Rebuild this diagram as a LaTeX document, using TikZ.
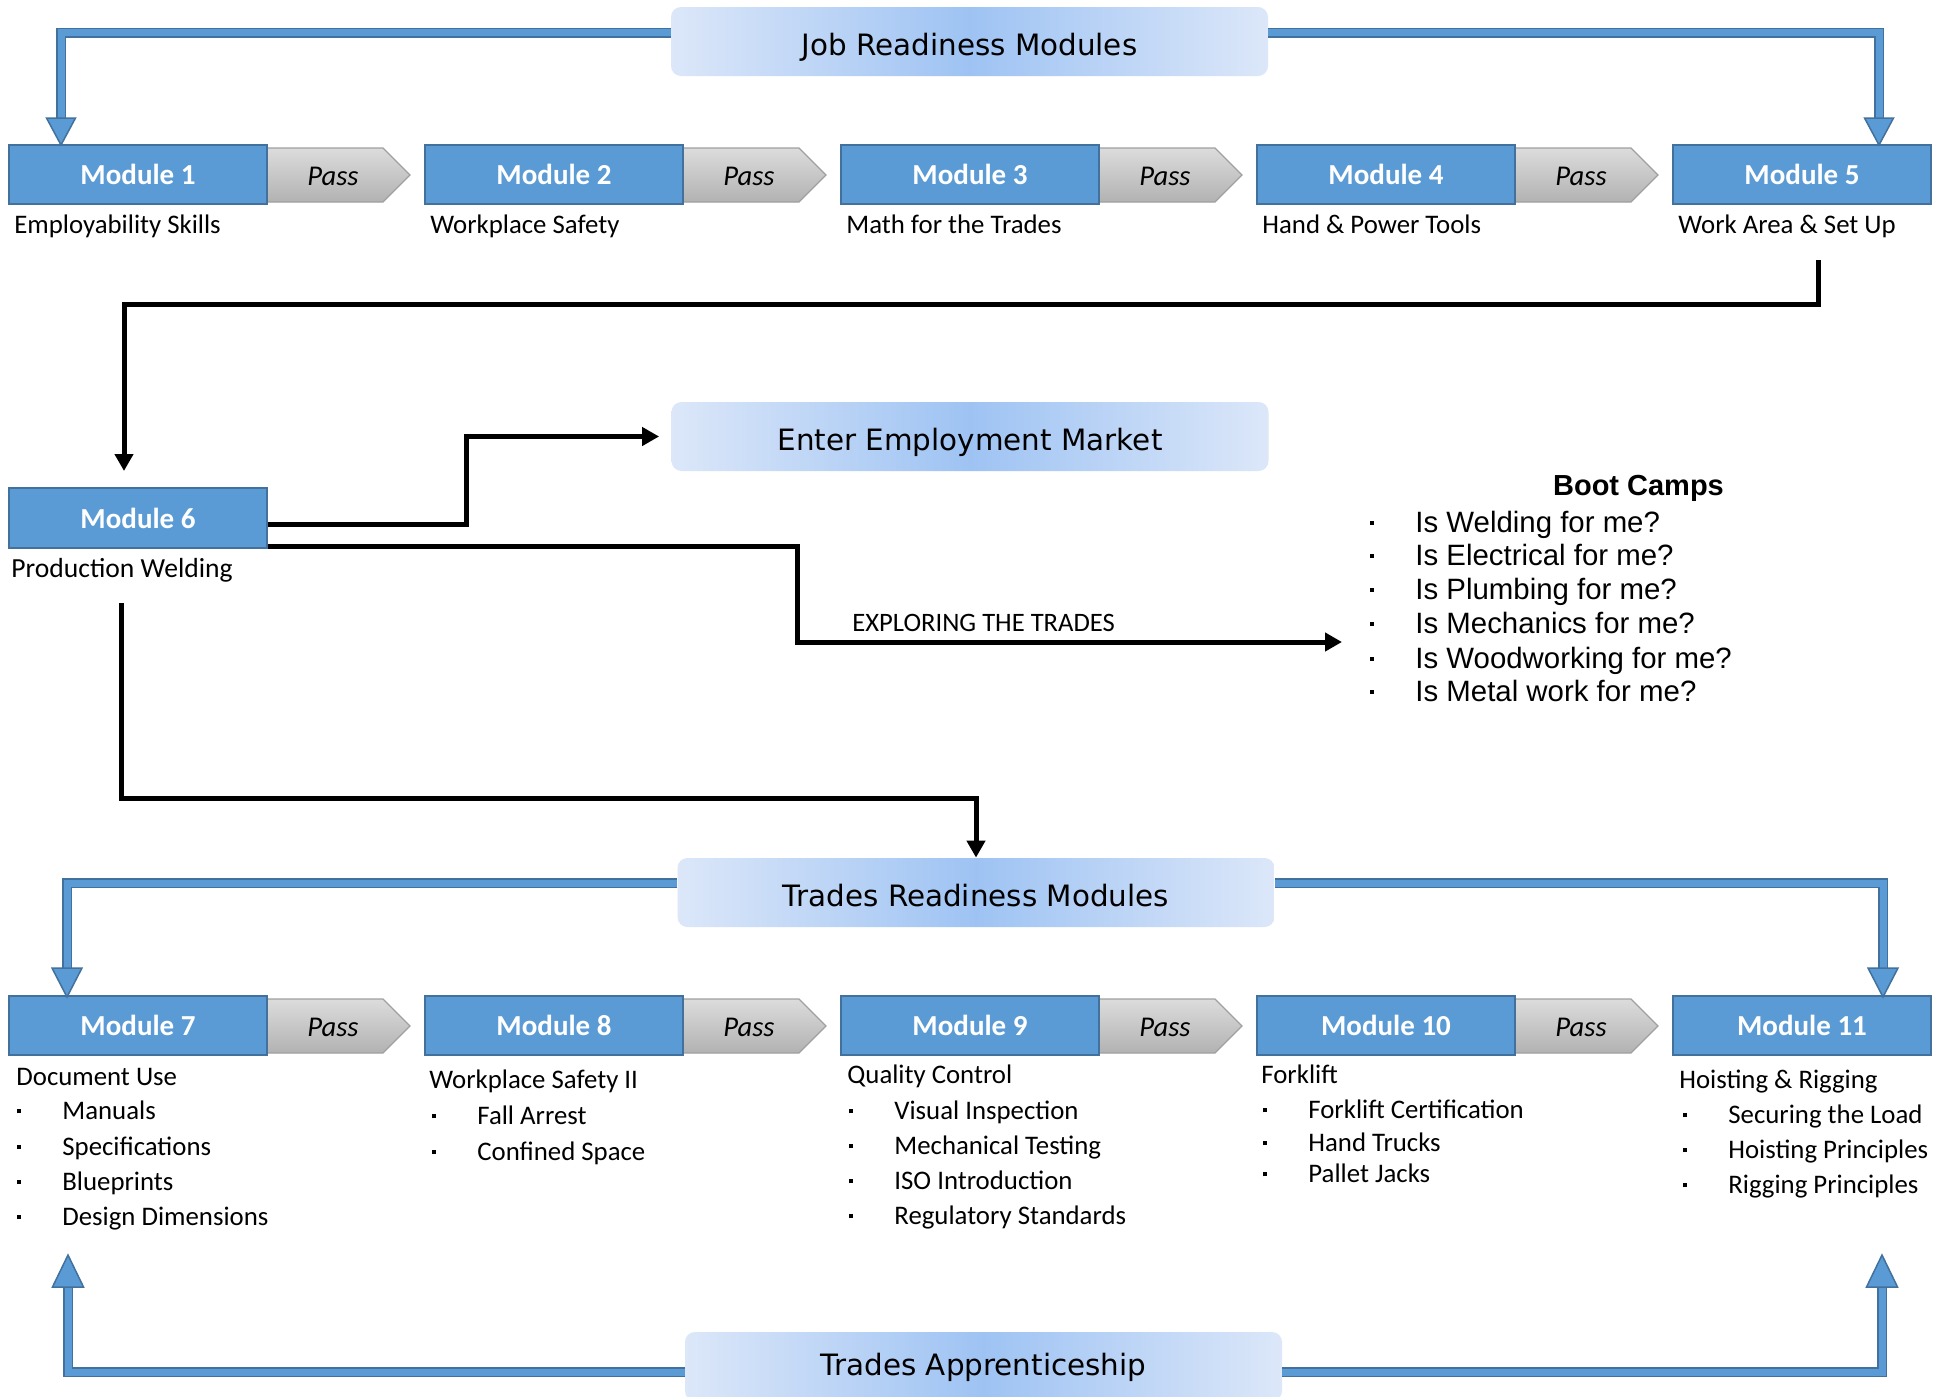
\documentclass[tikz,border=0pt]{standalone}
\usepackage{fontspec}
\setmainfont{Carlito}
\newfontfamily\hdrfont{DejaVu Sans}
\newfontfamily\bcfont{Liberation Sans}
\usetikzlibrary{arrows.meta,calc}
\definecolor{modfill}{HTML}{5B9BD5}
\definecolor{modedge}{HTML}{41719C}
\definecolor{hdrside}{HTML}{DCE7F9}
\definecolor{hdrmid}{HTML}{9EC3F3}
\definecolor{passtop}{HTML}{DCDCDC}
\definecolor{passbot}{HTML}{B2B2B2}
\definecolor{passedge}{HTML}{A0A0A0}
\newcommand\sqbul{\rule[2.8pt]{2pt}{2pt}}
\newcommand\itm[1]{\hbox to 22.5pt{\sqbul\hfil}#1}
\newcommand\bcbul{\rule[3.6pt]{2pt}{2pt}}
\newcommand\bcitm[1]{\hbox to 22.5pt{\bcbul\hfil}#1}
\begin{document}
\begin{tikzpicture}[x=0.5pt,y=-0.5pt,
  modbox/.style={draw=modedge,line width=1pt,fill=modfill,minimum width=129pt,minimum height=29.5pt,inner sep=0pt,text=white,font=\fontsize{14.5}{16}\selectfont\bfseries},
  hdrbox/.style={rounded corners=5pt,left color=hdrside,right color=hdrside,middle color=hdrmid,minimum width=298.5pt,minimum height=34.5pt,inner sep=0pt,text height=13.5pt,text depth=0pt,font=\hdrfont\fontsize{14.7}{17}\selectfont},
  passshape/.style={top color=passtop,bottom color=passbot,draw=passedge,line width=0.6pt},
  passtxt/.style={inner sep=0pt,font=\fontsize{14.3}{16}\selectfont\itshape},
  desc/.style={anchor=base west,inner sep=0pt,font=\fontsize{13.4}{15}\selectfont},
  bc/.style={anchor=base west,inner sep=0pt,font=\bcfont\fontsize{14.7}{17}\selectfont},
  blk/.style={line width=2.5pt,-{Triangle[length=8.5pt,width=9pt]}},
  band/.style={draw=modedge,line width=0.75pt,double=modfill,double distance=3.5pt},
  bandhead/.style={fill=modfill,draw=modedge,line width=0.75pt,line join=miter},
]
\useasboundingbox (0,0) rectangle (1934,1397);
\fill[white] (0,0) rectangle (1934,1397);

% pass arrows
\foreach \i in {1,...,4}{
  \pgfmathsetmacro\xl{9+416*(\i-1)}
  \path[passshape] (\xl+258,148) -- (\xl+374,148) -- (\xl+401,175) -- (\xl+374,202) -- (\xl+258,202) -- cycle;
  \node[passtxt] (p\i) at (\xl+324,176) {Pass};
  \path[passshape] (\xl+258,999) -- (\xl+374,999) -- (\xl+401,1026) -- (\xl+374,1053) -- (\xl+258,1053) -- cycle;
  \node[passtxt] (q\i) at (\xl+324,1027) {Pass};
}

% top row
\foreach \i/\t in {1/Employability Skills,2/Workplace Safety,3/Math for the Trades,4/Hand \& Power Tools,5/Work Area \& Set Up}{
  \pgfmathsetmacro\xl{9+416*(\i-1)}
  \node[modbox] (m\i) at (\xl+129,174.5) {Module \i};
  \node[desc] (d\i) at (\xl+5,233) {\t};
}

% bottom row
\foreach \i/\n in {1/7,2/8,3/9,4/10,5/11}{
  \pgfmathsetmacro\xl{9+416*(\i-1)}
  \node[modbox] (m\n) at (\xl+129,1025.5) {Module \n};
}

% module 6
\node[modbox,minimum height=30pt] (m6) at (138,518) {Module 6};
\node[desc,font=\fontsize{13.8}{15}\selectfont] (d6) at (11,577) {Production Welding};

% headers
\node[hdrbox] (jrm) at (969.5,41.5) {Job Readiness Modules};
\node[hdrbox] (eem) at (970,436.5) {Enter Employment Market};
\node[hdrbox] (trm) at (976,892.5) {Trades Readiness Modules};
\node[hdrbox,text height=10.5pt,text depth=2pt] (tap) at (983.5,1366.5) {Trades Apprenticeship};

% bottom descriptions
\node[desc] (d7) at (16,1085) {Document Use};
\foreach \y/\t [count=\k] in {1119/Manuals,1155/Specifications,1190/Blueprints,1225/Design Dimensions}
  \node[desc] (i7-\k) at (17,\y) {\itm{\t}};
\node[desc] (d8) at (429,1088) {Workplace Safety II};
\foreach \y/\t [count=\k] in {1124/Fall Arrest,1160/Confined Space}
  \node[desc] (i8-\k) at (432,\y) {\itm{\t}};
\node[desc] (d9) at (847,1083) {Quality Control};
\foreach \y/\t [count=\k] in {1119/Visual Inspection,1154/Mechanical Testing,1189/ISO Introduction,1224/Regulatory Standards}
  \node[desc] (i9-\k) at (849,\y) {\itm{\t}};
\node[desc] (d10) at (1261,1083) {Forklift};
\foreach \y/\t [count=\k] in {1118/Forklift Certification,1151/Hand Trucks,1182/Pallet Jacks}
  \node[desc] (i10-\k) at (1263,\y) {\itm{\t}};
\node[desc] (d11) at (1679,1088) {Hoisting \& Rigging};
\foreach \y/\t [count=\k] in {1123/Securing the Load,1158/Hoisting Principles,1193/Rigging Principles}
  \node[desc] (i11-\k) at (1683,\y) {\itm{\t}};

% boot camps
\node[anchor=base,inner sep=0pt,font=\bcfont\bfseries\fontsize{14.5}{17}\selectfont] (bch) at (1638.5,495) {Boot Camps};
\foreach \y/\t [count=\k] in {532/Is Welding for me?,565/Is Electrical for me?,599/Is Plumbing for me?,633/Is Mechanics for me?,668/Is Woodworking for me?,701/Is Metal work for me?}
  \node[bc] (bc\k) at (1370,\y) {\bcitm{\t}};

\node[desc,font=\fontsize{13.3}{15}\selectfont] (expl) at (852,631) {EXPLORING THE TRADES};

% blue bent arrows
\draw[band] ([yshift=4.5pt]jrm.west) -| (61,121);
\draw[band] ([yshift=4.5pt]jrm.east) -| (1879,121);
\path[bandhead] (46.5,118) -- (75.5,118) -- (61,145) -- cycle;
\path[bandhead] (1864.5,118) -- (1893.5,118) -- (1879,145) -- cycle;

\draw[band] ([yshift=4.75pt]trm.west) -| (67,971);
\draw[band] ([yshift=4.75pt]trm.east) -| (1883,971);
\path[bandhead] (52,968) -- (82,968) -- (67,997) -- cycle;
\path[bandhead] (1868,968) -- (1898,968) -- (1883,997) -- cycle;

\draw[band] ([yshift=-2.75pt]tap.west) -| (68,1284);
\draw[band] ([yshift=-2.75pt]tap.east) -| (1882,1284);
\path[bandhead] (52.5,1287) -- (83.5,1287) -- (68,1255) -- cycle;
\path[bandhead] (1866.5,1287) -- (1897.5,1287) -- (1882,1255) -- cycle;

% black connectors
\coordinate (s5) at (1818,260);
\coordinate (t6) at (124,471);
\coordinate (s6) at (121,603);
\coordinate (bcin) at (1342,642);
\draw[blk] (s5) -- ++(0,44) -| (t6);
\draw[blk] ([yshift=-3pt]m6.east) -- ++(198,0) |- ([xshift=-6pt]eem.west);
\draw[blk] ([yshift=-14pt]m6.east) -- ++(529,0) |- (bcin);
\draw[blk] (s6) -- ++(0,195) -| (trm.north);
\end{tikzpicture}
\end{document}
